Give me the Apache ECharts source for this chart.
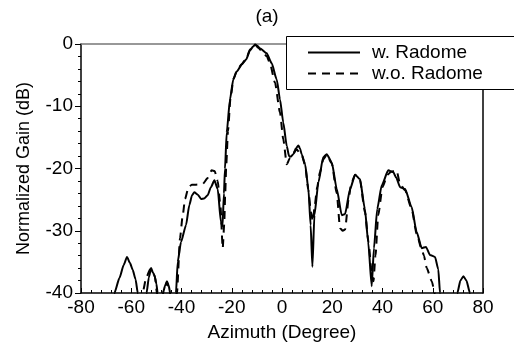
<!DOCTYPE html>
<html>
<head>
<meta charset="utf-8">
<script src="https://cdn.jsdelivr.net/npm/echarts@6/dist/echarts.min.js"></script>
<style>
  html, body { margin: 0; padding: 0; background: #fff; }
  #chart { width: 514px; height: 347px; }
</style>
</head>
<body>
<div id="chart"></div>
<script>
// w. Radome (solid) - azimuth (deg) / normalized gain (dB)
const wAngle = [-80, -67.5, -66.7, -64.7, -63, -61.7, -60.5, -59.4, -58.3, -57.4, -56.5,
  -54.5, -53.9, -53, -52.1, -51.3, -50.8, -50, -49.5, -49,
  -48, -47.4, -46.5, -45.8, -45.1, -44.5, -44,
  -42.8, -42.2, -41.5, -40.2, -38.2, -36.9, -35.8, -34.9, -33.5, -32.2, -31, -29.6, -28.3, -26.9, -25.6, -24.3, -23.7, -23.1, -22.7,
  -22, -20.7, -19.4, -18, -16, -14.3, -12.7, -11.5, -10.7, -9.8, -8.8, -6.1, -4.1, -2.1, -0.8, 0.5, 1.9, 2.8, 3.5, 4.5, 5.5, 6.5, 7.2, 7.8, 9.2,
  10.5, 11.4, 12.1, 12.9, 14.5, 16.4, 17.8, 19.8, 21.8, 23.8, 25.1, 27.1, 29.1, 31, 33, 34.3, 35.7, 36.6, 37.9, 39.7,
  42.3, 44.3, 45.5, 47, 49, 51.6, 53.6, 55.6, 57.3, 58.9, 60.9, 62.2, 62.9, 63.5,
  69.2, 69.8, 71, 72.2, 73.4, 74.8, 75.5, 80];
const wGain = [-50, -50, -40, -37.6, -35.5, -34.2, -35.2, -36.3, -37.8, -40, -50,
  -50, -40, -37.5, -36, -36.8, -37.1, -38.5, -40, -50,
  -50, -40, -38.8, -38.1, -38.8, -40, -50,
  -50, -40, -35, -31.8, -29.1, -25.9, -24.3, -23.8, -24.2, -24.9, -24.8, -24.3, -23, -21.9, -23.3, -28.6, -29.3, -24, -20.1,
  -14.2, -8.9, -5.7, -4.4, -3.3, -2.5, -1, -0.4, -0.1, -0.3, -0.7, -1.5, -3.1, -5.7, -8.9, -12.6, -16.4, -18, -18.1, -17.7, -16.8, -16.3, -16.8, -17.7, -19.3,
  -23.3, -29.1, -35.8, -27.5, -22.2, -18.2, -17.7, -19, -23.3, -27.5, -27.3, -23.3, -21, -21.7, -26.5, -31.8, -38.9, -32.8, -26.5, -22.7,
  -20.3, -20.6, -21.5, -23, -23.3, -26.2, -30.2, -32.8, -32.6, -33.9, -34.2, -36.2, -40, -50,
  -50, -40, -38, -37.3, -38, -40, -50, -50];

// w.o. Radome (dashed)
const woAngle = [-80, -56.2, -55.5, -54, -52.5, -51.5, -50.5, -49.8, -49.3,
  -48, -47.4, -45.8, -44.5, -44,
  -42.5, -41.8, -40.6, -39.5, -38.6, -37.2, -35.9, -34.2, -31.6, -29.5, -28, -26.8, -25.6, -24.5, -23.6, -23, -22.6,
  -22.2, -21.5, -20.5, -19.3, -18, -16, -14.3, -12.7, -11.5, -10.7, -9.5, -7.5, -6, -4.8, -2.8, -0.8, 0.5, 1.9, 3.2, 4.5, 5.8, 7, 8, 9.2,
  10.5, 11.5, 12.3, 13, 14, 15.1, 16.5, 17.8, 19.8, 21.8, 23.1, 24.2, 25.1, 26.5, 27.5, 29.1, 31, 33, 34.5, 35.5, 36.4, 37.2, 38.3, 40,
  42, 43.5, 45.6, 47, 49, 51.6, 53.6, 55.6, 56.5, 57.6, 59.6, 60.8, 61.5, 80];
const woGain = [-50, -50, -40, -37.5, -36.2, -36.5, -37.5, -40, -50,
  -50, -40, -38.3, -40, -50,
  -50, -40, -31.2, -27.5, -24.9, -23, -22.6, -22.6, -22.5, -21.5, -20.3, -20.4, -22, -26, -32.8, -29, -24,
  -19.5, -14, -8.7, -5.6, -4.3, -3.2, -2.4, -0.9, -0.3, -0.1, -0.6, -1.4, -2, -3.1, -6.2, -11, -15.3, -19.3, -18.3, -17.6, -16.9, -17.5, -18, -19.5,
  -23.5, -27, -28.5, -26, -23, -20.6, -18.5, -17.8, -19.2, -24, -29.6, -30, -29.8, -25, -22.5, -21, -21.8, -27, -32, -36, -38.1, -34, -27.5, -23,
  -21, -20.5, -20.3, -22.5, -23.5, -26.5, -30.5, -33, -34, -36, -38.1, -40, -50, -50];

const xTicks = [-80, -60, -40, -20, 0, 20, 40, 60, 80];
const yTicks = [0, -10, -20, -30, -40];
const seriesNames = ['w. Radome', 'w.o. Radome'];

const FONT = 'Arial, "Liberation Sans", sans-serif';

const chart = echarts.init(document.getElementById('chart'), null, { renderer: 'canvas' });

const option = {
  animation: false,
  backgroundColor: '#fff',
  graphic: [{
    type: 'text',
    x: 267, y: 17,
    style: { text: '(a)', fontSize: 19, fontFamily: FONT, fill: '#000', textAlign: 'center', textVerticalAlign: 'middle' }
  }, {
    // legend frame, running off the right edge like the original
    type: 'rect',
    z: 5,
    shape: { x: 286.5, y: 36.5, width: 260, height: 53 },
    style: { fill: '#fff', stroke: '#000', lineWidth: 1 }
  }],
  legend: {
    orient: 'vertical',
    left: 286, top: 36,
    padding: [7, 20, 8, 21],
    itemWidth: 52, itemHeight: 14, itemGap: 2,
    borderWidth: 0,
    z: 10,
    itemStyle: { opacity: 0 },
    textStyle: { fontSize: 19, fontFamily: FONT, color: '#000', padding: [0, 0, 0, 7] },
    data: seriesNames
  },
  grid: { left: 81, right: 31, top: 44, bottom: 52, containLabel: false },
  xAxis: [{
    type: 'value', min: -80, max: 80, interval: 20,
    name: 'Azimuth (Degree)', nameLocation: 'middle', nameGap: 30,
    nameTextStyle: { fontSize: 19, fontFamily: FONT, color: '#000' },
    axisLine: { onZero: false, lineStyle: { color: '#000', width: 1.5 } },
    axisTick: { inside: true, length: 5, lineStyle: { color: '#000' } },
    minorTick: { show: true, splitNumber: 5, length: 3, lineStyle: { color: '#000' } },
    axisLabel: { fontSize: 19, fontFamily: FONT, color: '#000', margin: 5,
      formatter: v => (xTicks.indexOf(v) >= 0 ? String(v) : '') },
    splitLine: { show: false }
  }, {
    type: 'value', position: 'top', min: -80, max: 80,
    axisLine: { show: true, onZero: false, lineStyle: { color: '#777', width: 1.5 } },
    axisTick: { show: false }, axisLabel: { show: false }, splitLine: { show: false }
  }],
  yAxis: [{
    type: 'value', min: -40, max: 0, interval: 10,
    name: 'Normalized Gain (dB)', nameLocation: 'middle', nameGap: 48,
    nameTextStyle: { fontSize: 18, fontFamily: FONT, color: '#000' },
    axisLine: { show: true, onZero: false, lineStyle: { color: '#000', width: 1.5 } },
    axisTick: { show: true, length: 6, lineStyle: { color: '#000' } },
    minorTick: { show: true, splitNumber: 5, length: 3, lineStyle: { color: '#000' } },
    axisLabel: { fontSize: 19, fontFamily: FONT, color: '#000', margin: 8,
      formatter: v => (yTicks.indexOf(v) >= 0 ? String(v) : '') },
    splitLine: { show: false }
  }, {
    type: 'value', position: 'right', min: -40, max: 0,
    axisLine: { show: true, onZero: false, lineStyle: { color: '#000', width: 1.5 } },
    axisTick: { show: false }, axisLabel: { show: false }, splitLine: { show: false }
  }],
  series: [{
    name: seriesNames[0],
    type: 'line',
    data: wAngle.map((a, i) => [a, wGain[i]]),
    symbol: 'none',
    smooth: 0.2, smoothMonotone: 'x',
    clip: true,
    color: '#000',
    lineStyle: { color: '#000', width: 2 },
    z: 3
  }, {
    name: seriesNames[1],
    type: 'line',
    data: woAngle.map((a, i) => [a, woGain[i]]),
    symbol: 'none',
    smooth: 0.2, smoothMonotone: 'x',
    clip: true,
    color: '#000',
    lineStyle: { color: '#000', width: 2, type: [8, 6] },
    z: 2
  }]
};

chart.setOption(option);
</script>
</body>
</html>
